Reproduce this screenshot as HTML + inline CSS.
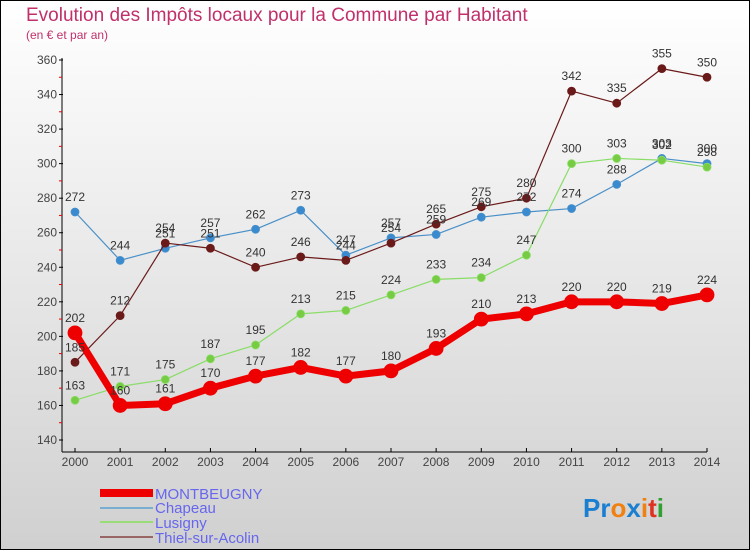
<!DOCTYPE html>
<html><head><meta charset="utf-8"><style>
html,body{margin:0;padding:0;}
body{width:750px;height:550px;overflow:hidden;font-family:"Liberation Sans",sans-serif;}
</style></head><body>
<svg width="750" height="550" xmlns="http://www.w3.org/2000/svg" style="display:block">
<defs><linearGradient id="bg" x1="0" y1="0" x2="0" y2="1"><stop offset="0" stop-color="#ffffff"/><stop offset="1" stop-color="#d0d0d0"/></linearGradient></defs>
<rect x="0.5" y="0.5" width="749" height="549" fill="url(#bg)" stroke="#000"/>
<text x="26" y="21" font-size="19" fill="#c0306a">Evolution des Impôts locaux pour la Commune par Habitant</text>
<text x="26" y="39" font-size="12" fill="#c0306a">(en € et par an)</text>
<g id="axes"></g>
<g id="series"></g>
<g id="labels"></g>
<g>
<rect x="100" y="489" width="53" height="8" fill="#e00"/>
<text x="155" y="499" font-size="15" fill="#6666ee">MONTBEUGNY</text>
<rect x="100" y="507" width="53" height="2" fill="#7aaed0"/>
<text x="155" y="513" font-size="15" fill="#6666ee">Chapeau</text>
<rect x="100" y="521" width="53" height="2" fill="#99dd77"/>
<text x="155" y="528" font-size="15" fill="#6666ee">Lusigny</text>
<rect x="100" y="536" width="53" height="2" fill="#996666"/>
<text x="155" y="543" font-size="15" fill="#6666ee">Thiel-sur-Acolin</text>
</g>
<text x="583" y="517" font-size="26" font-weight="bold"><tspan fill="#1a7fd0">Pr</tspan><tspan fill="#f08010">o</tspan><tspan fill="#1a7fd0">x</tspan><tspan fill="#f08010">i</tspan><tspan fill="#e03020">t</tspan><tspan fill="#30a030">i</tspan></text>
</svg>
<script>
const years = [2000,2001,2002,2003,2004,2005,2006,2007,2008,2009,2010,2011,2012,2013,2014];
const montbeugny = [202,160,161,170,177,182,177,180,193,210,213,220,220,219,224];
const chapeau = [272,244,251,257,262,273,247,257,259,269,272,274,288,303,300];
const lusigny = [163,171,175,187,195,213,215,224,233,234,247,300,303,302,298];
const thiel = [185,212,254,251,240,246,244,254,265,275,280,342,335,355,350];
const yTicks = [140,160,180,200,220,240,260,280,300,320,340,360];

const NS = 'http://www.w3.org/2000/svg';
const x = i => 75 + i * (707 - 75) / (years.length - 1);
const y = v => 440 - (v - 140) * (380 / 220);
function mk(tag, attrs, parent){ const e=document.createElementNS(NS,tag); for(const k in attrs) e.setAttribute(k,attrs[k]); parent.appendChild(e); return e; }
const axes = document.getElementById('axes');
const ser = document.getElementById('series');
const lab = document.getElementById('labels');

let el = mk('line',{x1:62,y1:58,x2:62,y2:452,stroke:'#000','stroke-width':1},axes);


el = mk('line',{x1:62,y1:452,x2:707,y2:452,stroke:'#000','stroke-width':1},axes);


yTicks.forEach((t,i)=>{
  const yy=y(t);
  const tk=mk('line',{x1:59,y1:yy,x2:63,y2:yy,stroke:'#000'},axes);
  
  
  const tx=mk('text',{x:57,y:yy+4,'font-size':12,fill:'#444','text-anchor':'end'},axes);
  tx.textContent=t;
  
  
  if(i<yTicks.length-1){
    const mt=mk('line',{x1:59,y1:yy-17.3,x2:62,y2:yy-17.3,stroke:'#e00'},axes);
    
    
  }
});
years.forEach((yr,i)=>{
  const tk=mk('line',{x1:x(i),y1:448,x2:x(i),y2:452,stroke:'#000'},axes);
  
  
  const tx=mk('text',{x:x(i),y:466,'font-size':12,fill:'#444','text-anchor':'middle'},axes);
  tx.textContent=yr;
  
  
});

function drawSeries(name, data, color, dot, width, r){
  const pts=data.map((v,i)=>x(i)+','+y(v)).join(' ');
  const pl=mk('polyline',{points:pts,fill:'none',stroke:color,'stroke-width':width,'stroke-linejoin':'round'},ser);
  
  
  data.forEach((v,i)=>{
    const c=mk('circle',{cx:x(i),cy:y(v),r:r,fill:dot,stroke:color,'stroke-width':0.8},ser);
    
    
    const t=mk('text',{x:x(i),y:y(v)-11,'font-size':12,fill:'#333','text-anchor':'middle'},lab);
    t.textContent=v;
    
    
  });
}
drawSeries('chapeau', chapeau, '#4a90c8', '#3a8ad0', 1.2, 4);
drawSeries('lusigny', lusigny, '#88dd66', '#77cc44', 1.2, 4);
drawSeries('thiel', thiel, '#6b1a1a', '#6b1a1a', 1.2, 4);
drawSeries('montbeugny', montbeugny, '#ee0000', '#ee0000', 7, 7);
</script>
</body></html>
